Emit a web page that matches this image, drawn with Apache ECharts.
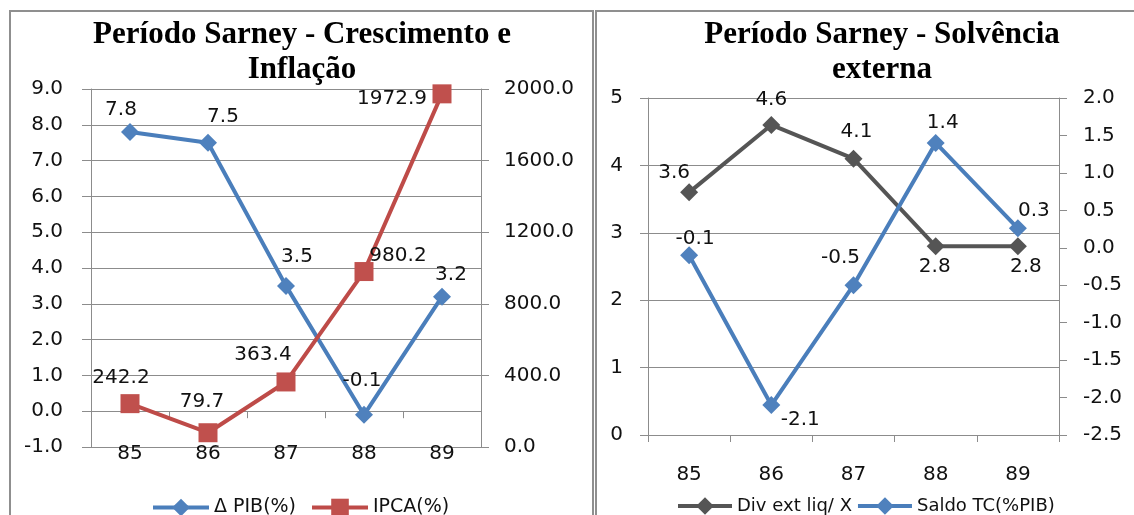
<!DOCTYPE html>
<html><head><meta charset="utf-8">
<script src="https://cdn.jsdelivr.net/npm/echarts@6/dist/echarts.min.js"></script>
<style>html,body{margin:0;padding:0;background:#fff}#c{width:1134px;height:515px}</style>
</head><body><div id="c"></div>
<script>
// ---- data ----
const categories = ['85', '86', '87', '88', '89'];
const pib = [7.8, 7.5, 3.5, -0.1, 3.2];                 // Δ PIB(%)
const ipca = [242.2, 79.7, 363.4, 980.2, 1972.9];       // IPCA(%)
const divExt = [3.6, 4.6, 4.1, 2.8, 2.8];               // Div ext liq/ X
const saldoTC = [-0.1, -2.1, -0.5, 1.4, 0.26];          // Saldo TC(%PIB)
const titles = ['Período Sarney - Crescimento e\nInflação', 'Período Sarney - Solvência\nexterna'];
const seriesNames = ['Δ PIB(%)', 'IPCA(%)', 'Div ext liq/ X', 'Saldo TC(%PIB)'];
// axis ranges (tick labels)
const pibAxis = {min: -1, max: 9, interval: 1};
const ipcaAxis = {min: 0, max: 2000, interval: 400};
const divAxis = {min: 0, max: 5, interval: 1};
const saldoAxis = {min: -2.5, max: 2.0, interval: 0.5};

// ---- styling / placement ----
const FONT = 'DejaVu Sans';
const GRID = '#8c8c8c';
const BLUE = '#4A7EBB', RED = '#BE4B48', DARK = '#555555';
const pibOff = [[-9,-22],[15,-26],[11,-29],[-2,-34],[9,-22]];
const ipcaOff = [[-9,-26],[-6,-31],[-23,-27],[34,-16],[-50,5]];
const divOff = [[-15,-20],[0,-25],[3,-27],[-1,21],[8,21]];
const saldoOff = [[6,-16],[29,15],[-13,-27],[7,-20],[16,-18]];

function withLabels(vals, offs) {
  return vals.map((v, i) => ({value: v, label: {offset: offs[i]}}));
}
const labelStyle = {
  show: true, position: 'inside', color: '#111', fontFamily: FONT, fontSize: 20,
  formatter: p => Number(p.value).toFixed(1)
};
const axisLabelStyle = {color: '#111', fontFamily: FONT, fontSize: 20};

function yAxis(gridIndex, rng, position, split, margin, tickLen, digits) {
  return {
    type: 'value', gridIndex, position, min: rng.min, max: rng.max, interval: rng.interval,
    axisLine: {show: true, lineStyle: {color: GRID, width: 1}},
    axisTick: {show: true, length: tickLen, lineStyle: {color: GRID}},
    splitLine: {show: split, lineStyle: {color: GRID, width: 1}},
    axisLabel: Object.assign({margin, formatter: v => v.toFixed(digits)}, axisLabelStyle)
  };
}

const option = {
  animation: false,
  backgroundColor: '#fff',
  graphic: [
    {type: 'rect', silent: true, shape: {x: 10, y: 11, width: 583, height: 530},
     style: {fill: 'transparent', stroke: '#8f8f8f', lineWidth: 2}},
    {type: 'rect', silent: true, shape: {x: 596, y: 11, width: 580, height: 530},
     style: {fill: 'transparent', stroke: '#8f8f8f', lineWidth: 2}}
  ],
  title: [
    {text: titles[0], left: 297, top: 12, textAlign: 'center',
     textStyle: {fontFamily: 'Liberation Serif', fontWeight: 'bold', fontSize: 31, lineHeight: 35, color: '#000'}},
    {text: titles[1], left: 877, top: 12, textAlign: 'center',
     textStyle: {fontFamily: 'Liberation Serif', fontWeight: 'bold', fontSize: 31, lineHeight: 35, color: '#000'}}
  ],
  legend: [
    {data: [seriesNames[0], seriesNames[1]], left: 146, top: 493, itemWidth: 56, itemHeight: 22, itemGap: 14,
     lineStyle: {width: 4},
     textStyle: {fontFamily: FONT, fontSize: 19, color: '#111'}},
    {data: [seriesNames[2], seriesNames[3]], left: 671, top: 492, itemWidth: 54, itemHeight: 22, itemGap: 4,
     lineStyle: {width: 4},
     textStyle: {fontFamily: FONT, fontSize: 18, color: '#111'}}
  ],
  grid: [
    {left: 91, top: 89, width: 390, height: 358, containLabel: false, outerBoundsMode: 'none'},
    {left: 648, top: 98, width: 411, height: 337, containLabel: false, outerBoundsMode: 'none'}
  ],
  xAxis: [
    {type: 'category', gridIndex: 0, data: categories, position: 'bottom',
     axisLine: {show: false, onZero: false}, axisTick: {show: false},
     axisLabel: Object.assign({margin: 7, verticalAlign: 'middle'}, axisLabelStyle)},
    {type: 'category', gridIndex: 0, data: categories, position: 'bottom',
     axisLine: {show: true, onZero: true, onZeroAxisIndex: 0, lineStyle: {color: GRID, width: 1}},
     axisTick: {show: true, length: 7, lineStyle: {color: GRID}}, axisLabel: {show: false}},
    {type: 'category', gridIndex: 1, data: categories, position: 'bottom',
     axisLine: {show: true, onZero: false, lineStyle: {color: GRID, width: 1}},
     axisTick: {show: true, length: 7, lineStyle: {color: GRID}},
     axisLabel: Object.assign({margin: 40, verticalAlign: 'middle'}, axisLabelStyle)}
  ],
  yAxis: [
    yAxis(0, pibAxis, 'left', true, 28, 9, 1),
    yAxis(0, ipcaAxis, 'right', false, 23, 8, 1),
    yAxis(1, divAxis, 'left', true, 25, 8, 0),
    yAxis(1, saldoAxis, 'right', false, 24, 8, 1)
  ],
  series: [
    {name: seriesNames[0], type: 'line', xAxisIndex: 0, yAxisIndex: 0, data: withLabels(pib, pibOff),
     symbol: 'diamond', symbolSize: 18, itemStyle: {color: '#4F81BD'}, lineStyle: {color: BLUE, width: 4},
     label: labelStyle},
    {name: seriesNames[1], type: 'line', xAxisIndex: 0, yAxisIndex: 1, data: withLabels(ipca, ipcaOff),
     symbol: 'rect', symbolSize: 19, itemStyle: {color: '#C0504D'}, lineStyle: {color: RED, width: 4},
     label: labelStyle},
    {name: seriesNames[2], type: 'line', xAxisIndex: 2, yAxisIndex: 2, data: withLabels(divExt, divOff),
     symbol: 'diamond', symbolSize: 18, itemStyle: {color: DARK}, lineStyle: {color: DARK, width: 4},
     label: labelStyle},
    {name: seriesNames[3], type: 'line', xAxisIndex: 2, yAxisIndex: 3, data: withLabels(saldoTC, saldoOff),
     symbol: 'diamond', symbolSize: 18, itemStyle: {color: '#4F81BD'}, lineStyle: {color: BLUE, width: 4},
     label: labelStyle}
  ]
};
const chart = echarts.init(document.getElementById('c'), null, {renderer: 'canvas'});
chart.setOption(option);
</script></body></html>
